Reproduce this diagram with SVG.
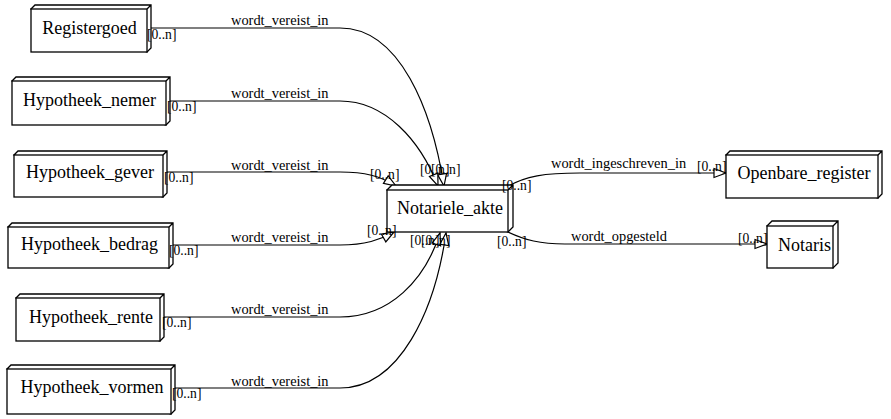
<svg xmlns="http://www.w3.org/2000/svg" width="891" height="419" viewBox="0 0 891 419">
<style>
.box{fill:#fff;stroke:#000;stroke-width:1.3;stroke-linejoin:miter}
.edge{fill:none;stroke:#000;stroke-width:1.2;marker-end:url(#oarrow)}
.nt{font-family:"Liberation Serif",serif;font-size:18px;text-anchor:middle;fill:#000}
.el{font-family:"Liberation Serif",serif;font-size:14.4px;fill:#000}
.ml{font-family:"Liberation Serif",serif;font-size:13.6px;fill:#000}
</style>
<defs>
<marker id="oarrow" markerUnits="userSpaceOnUse" markerWidth="16" markerHeight="12" refX="13" refY="6" orient="auto" viewBox="0 0 16 12">
<path d="M1,1.5 L13,6 L1,10.5 Z" fill="#fff" stroke="#000" stroke-width="1.2"/>
</marker>
</defs>
<rect width="891" height="419" fill="#fff"/>

<g id="connectors">
<path class="edge" d="M151,28 L340,28 C400,28 432,110 444,186"/>
<path class="edge" d="M170,101 L340,101 C385,101 420,140 438,186"/>
<path class="edge" d="M167,172 L340,172 C365,172 380,176 396,186"/>
<path class="edge" d="M173,245 L340,245 C365,245 380,240 394,232"/>
<path class="edge" d="M164,317 L340,317 C390,317 425,280 440,233"/>
<path class="edge" d="M175,388 L340,388 C400,388 435,310 446,233"/>
<path class="edge" d="M507,187 C525,176 545,173 580,173 L726,173"/>
<path class="edge" d="M508,232 C525,240 540,244 565,244 L767,244"/>
</g>

<g id="Registergoed">
<path class="box" d="M31,9 L35,5 L151,5 L151,48 L147,52 Z M147,9 L151,5"/>
<rect class="box" x="31" y="9" width="116" height="43"/>
<text class="nt" x="89.5" y="34">Registergoed</text>
</g>
<g id="Hypotheek_nemer">
<path class="box" d="M12,81 L16,77 L170,77 L170,121 L166,125 Z M166,81 L170,77"/>
<rect class="box" x="12" y="81" width="154" height="44"/>
<text class="nt" x="89.5" y="106">Hypotheek_nemer</text>
</g>
<g id="Hypotheek_gever">
<path class="box" d="M14,155 L18,151 L167,151 L167,193 L163,197 Z M163,155 L167,151"/>
<rect class="box" x="14" y="155" width="149" height="42"/>
<text class="nt" x="90" y="178">Hypotheek_gever</text>
</g>
<g id="Hypotheek_bedrag">
<path class="box" d="M8,227 L12,223 L173,223 L173,264 L169,268 Z M169,227 L173,223"/>
<rect class="box" x="8" y="227" width="161" height="41"/>
<text class="nt" x="89.5" y="250">Hypotheek_bedrag</text>
</g>
<g id="Hypotheek_rente">
<path class="box" d="M16,298 L20,294 L164,294 L164,337 L160,341 Z M160,298 L164,294"/>
<rect class="box" x="16" y="298" width="144" height="43"/>
<text class="nt" x="91" y="323">Hypotheek_rente</text>
</g>
<g id="Hypotheek_vormen">
<path class="box" d="M7,369 L11,365 L175,365 L175,410 L171,414 Z M171,369 L175,365"/>
<rect class="box" x="7" y="369" width="164" height="45"/>
<text class="nt" x="92" y="393">Hypotheek_vormen</text>
</g>
<g id="Notariele_akte">
<path class="box" d="M387,190 L392,185 L513,185 L513,227 L508,232 Z M508,190 L513,185"/>
<rect class="box" x="387" y="190" width="121" height="42"/>
<text class="nt" x="450" y="214">Notariele_akte</text>
</g>
<g id="Openbare_register">
<path class="box" d="M726,155 L730,151 L882,151 L882,194 L878,198 Z M878,155 L882,151"/>
<rect class="box" x="726" y="155" width="152" height="43"/>
<text class="nt" x="804" y="179">Openbare_register</text>
</g>
<g id="Notaris">
<path class="box" d="M767,226 L772,221 L838,221 L838,263 L833,268 Z M833,226 L838,221"/>
<rect class="box" x="767" y="226" width="66" height="42"/>
<text class="nt" x="804.5" y="250.5">Notaris</text>
</g>

<g id="edge-labels">
<text class="el" x="231" y="25">wordt_vereist_in</text>
<text class="el" x="231" y="98">wordt_vereist_in</text>
<text class="el" x="231" y="170">wordt_vereist_in</text>
<text class="el" x="231" y="242">wordt_vereist_in</text>
<text class="el" x="231" y="314">wordt_vereist_in</text>
<text class="el" x="231" y="386">wordt_vereist_in</text>
<text class="el" x="551" y="168">wordt_ingeschreven_in</text>
<text class="el" x="571" y="241">wordt_opgesteld</text>
<text class="ml" x="147" y="39">[0..n]</text>
<text class="ml" x="167" y="111">[0..n]</text>
<text class="ml" x="164" y="182">[0..n]</text>
<text class="ml" x="169" y="255">[0..n]</text>
<text class="ml" x="162" y="327">[0..n]</text>
<text class="ml" x="172" y="398">[0..n]</text>
<text class="ml" x="420" y="174">[0..n]</text>
<text class="ml" x="431" y="174">[0..n]</text>
<text class="ml" x="370" y="179">[0..n]</text>
<text class="ml" x="367" y="235">[0..n]</text>
<text class="ml" x="410" y="245">[0..n]</text>
<text class="ml" x="421" y="245">[0..n]</text>
<text class="ml" x="502" y="190">[0..n]</text>
<text class="ml" x="697" y="171">[0..n]</text>
<text class="ml" x="497" y="246">[0..n]</text>
<text class="ml" x="738" y="243">[0..n]</text>
</g>
</svg>
